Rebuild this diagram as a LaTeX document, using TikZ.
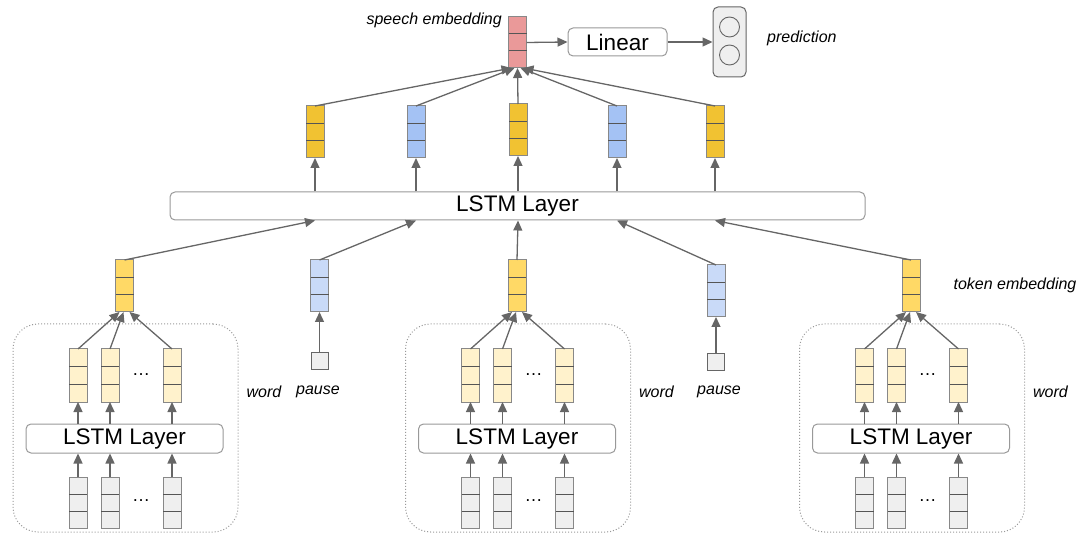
\documentclass[tikz,border=0pt]{standalone}
\usepackage{fontspec}
\setmainfont{Liberation Sans}
\usetikzlibrary{arrows.meta,calc}
\definecolor{linec}{HTML}{666666}
\definecolor{vborder}{HTML}{888888}
\definecolor{vinner}{HTML}{555555}
\definecolor{boxc}{HTML}{999999}
\definecolor{pinkc}{HTML}{EA9999}
\definecolor{ydark}{HTML}{F1C232}
\definecolor{bdark}{HTML}{A4C2F4}
\definecolor{ymid}{HTML}{FFD966}
\definecolor{blight}{HTML}{C9DAF8}
\definecolor{ypale}{HTML}{FFF2CC}
\definecolor{grayc}{HTML}{EFEFEF}
\tikzset{
  vecstyle/.style={draw=vborder, line width=1pt, minimum width=18pt, inner sep=0pt, outer sep=0pt},
  cellline/.style={draw=vinner, line width=1pt},
  arr/.style={draw=linec, line width=1.3pt, -{Triangle[length=10pt,width=9pt]}},
  lstm/.style={draw=boxc, line width=1pt, rounded corners=5pt, fill=white, inner sep=0pt, font=\fontsize{22.5}{26}\selectfont},
  lab/.style={font=\itshape\fontsize{16}{18}\selectfont, inner sep=0pt},
  dotsty/.style={font=\fontsize{18}{20}\selectfont, inner sep=0pt},
  grpbox/.style={draw=boxc, line width=1pt, dotted, rounded corners=25pt},
}
\newcommand{\vecbox}[5]{%
  \node[vecstyle, minimum height=#4pt, fill=#5] (#1) at (#2,#3) {};
  \draw[cellline] ($(#1.north west)!1/3!(#1.south west)$) -- ($(#1.north east)!1/3!(#1.south east)$);
  \draw[cellline] ($(#1.north west)!2/3!(#1.south west)$) -- ($(#1.north east)!2/3!(#1.south east)$);
}
\begin{document}
\begin{tikzpicture}[x=1pt,y=-1pt]
\path[use as bounding box] (0,0) rectangle (1089,534);

% top: speech embedding, linear, prediction
\vecbox{spe}{517.5}{42.5}{51}{pinkc}
\node[lstm, minimum width=99pt, minimum height=28pt] (lin) at (617.5,42) {Linear};
\node[draw=linec, line width=1pt, rounded corners=5pt, fill=grayc, minimum width=33pt, minimum height=70pt, inner sep=0pt] (pred) at (729.5,42) {};
\node[draw=linec, line width=0.9pt, circle, fill=grayc, minimum size=20pt, inner sep=0pt] (c1) at (729.5,27) {};
\node[draw=linec, line width=0.9pt, circle, fill=grayc, minimum size=20pt, inner sep=0pt] (c2) at (729.5,55) {};
\draw[arr] (spe.east) -- (lin.west);
\draw[arr] (lin.east) -- (pred.west);
\node[lab, anchor=east] (tspe) at (502,20) {speech embedding};
\node[lab, anchor=west] (tpred) at (767,38) {prediction};

% top row vectors
\vecbox{t1}{315}{132}{52}{ydark}
\vecbox{t2}{416}{132}{52}{bdark}
\vecbox{t3}{518}{130}{52}{ydark}
\vecbox{t4}{617}{132}{52}{bdark}
\vecbox{t5}{715}{132}{52}{ydark}

\draw[arr] (t1.north) -- ($(spe.south)+(-6,0)$);
\draw[arr] (t2.north) -- ($(spe.south)+(-3,0)$);
\draw[arr] (t3.north) -- (spe.south);
\draw[arr] (t4.north) -- ($(spe.south)+(3,0)$);
\draw[arr] (t5.north) -- ($(spe.south)+(6,0)$);

% big LSTM
\node[lstm, minimum width=695pt, minimum height=28pt] (L) at (517.5,206) {LSTM Layer};
\draw[arr] (t1.south |- L.north) -- (t1.south);
\draw[arr] (t2.south |- L.north) -- (t2.south);
\draw[arr] (t3.south |- L.north) -- (t3.south);
\draw[arr] (t4.south |- L.north) -- (t4.south);
\draw[arr] (t5.south |- L.north) -- (t5.south);

% token row
\vecbox{k1}{124.5}{286}{52}{ymid}
\vecbox{p1}{319.5}{286}{52}{blight}
\vecbox{k2}{517}{286}{52}{ymid}
\vecbox{p2}{716}{291}{52}{blight}
\vecbox{k3}{911}{286}{52}{ymid}

\draw[arr] (k1.north) -- (t1.south |- L.south);
\draw[arr] (p1.north) -- (t2.south |- L.south);
\draw[arr] (k2.north) -- (t3.south |- L.south);
\draw[arr] (p2.north) -- (t4.south |- L.south);
\draw[arr] (k3.north) -- (t5.south |- L.south);

% pauses
\node[draw=linec, line width=0.9pt, fill=grayc, minimum size=17pt, inner sep=0pt] (s1) at (319.5,361) {};
\node[draw=linec, line width=0.9pt, fill=grayc, minimum size=17pt, inner sep=0pt] (s2) at (716,361.5) {};
\draw[arr] (s1.north) -- (p1.south);
\draw[arr] (s2.north) -- (p2.south);
\node[lab] (lp1) at (318,392) {pause};
\node[lab] (lp2) at (719,392) {pause};

\node[lab] (ltok) at (1015,285) {token embedding};

% word groups
\foreach \o/\i in {0/1, 392.5/2, 786.5/3}{
  \node[grpbox, minimum width=225pt, minimum height=208pt] (box\i) at (125.5+\o,428) {};
  \vecbox{ya\i}{78+\o}{375.5}{53}{ypale}
  \vecbox{yb\i}{110+\o}{375.5}{53}{ypale}
  \vecbox{yc\i}{172+\o}{375.5}{53}{ypale}
  \node[lstm, minimum width=197pt, minimum height=29pt] (sl\i) at (124.5+\o,438.5) {LSTM Layer};
  \vecbox{ga\i}{78+\o}{502.5}{51}{grayc}
  \vecbox{gb\i}{110+\o}{502.5}{51}{grayc}
  \vecbox{gc\i}{172+\o}{502.5}{51}{grayc}
  \node[dotsty] (da\i) at (141+\o,375) {\dots};
  \node[dotsty] (db\i) at (141+\o,501) {\dots};
  \node[lab] (lw\i) at (264+\o,392) {word};
  \foreach \v in {a,b,c}{
    \draw[arr] (y\v\i.south |- sl\i.north) -- (y\v\i.south);
    \draw[arr] (g\v\i.north) -- (g\v\i.north |- sl\i.south);
  }
  \draw[arr] (ya\i.north) -- ($(k\i.south)+(-5,0)$);
  \draw[arr] (yb\i.north) -- ($(k\i.south)+(-1,0)$);
  \draw[arr] (yc\i.north) -- ($(k\i.south)+(5,0)$);
}
\end{tikzpicture}
\end{document}
